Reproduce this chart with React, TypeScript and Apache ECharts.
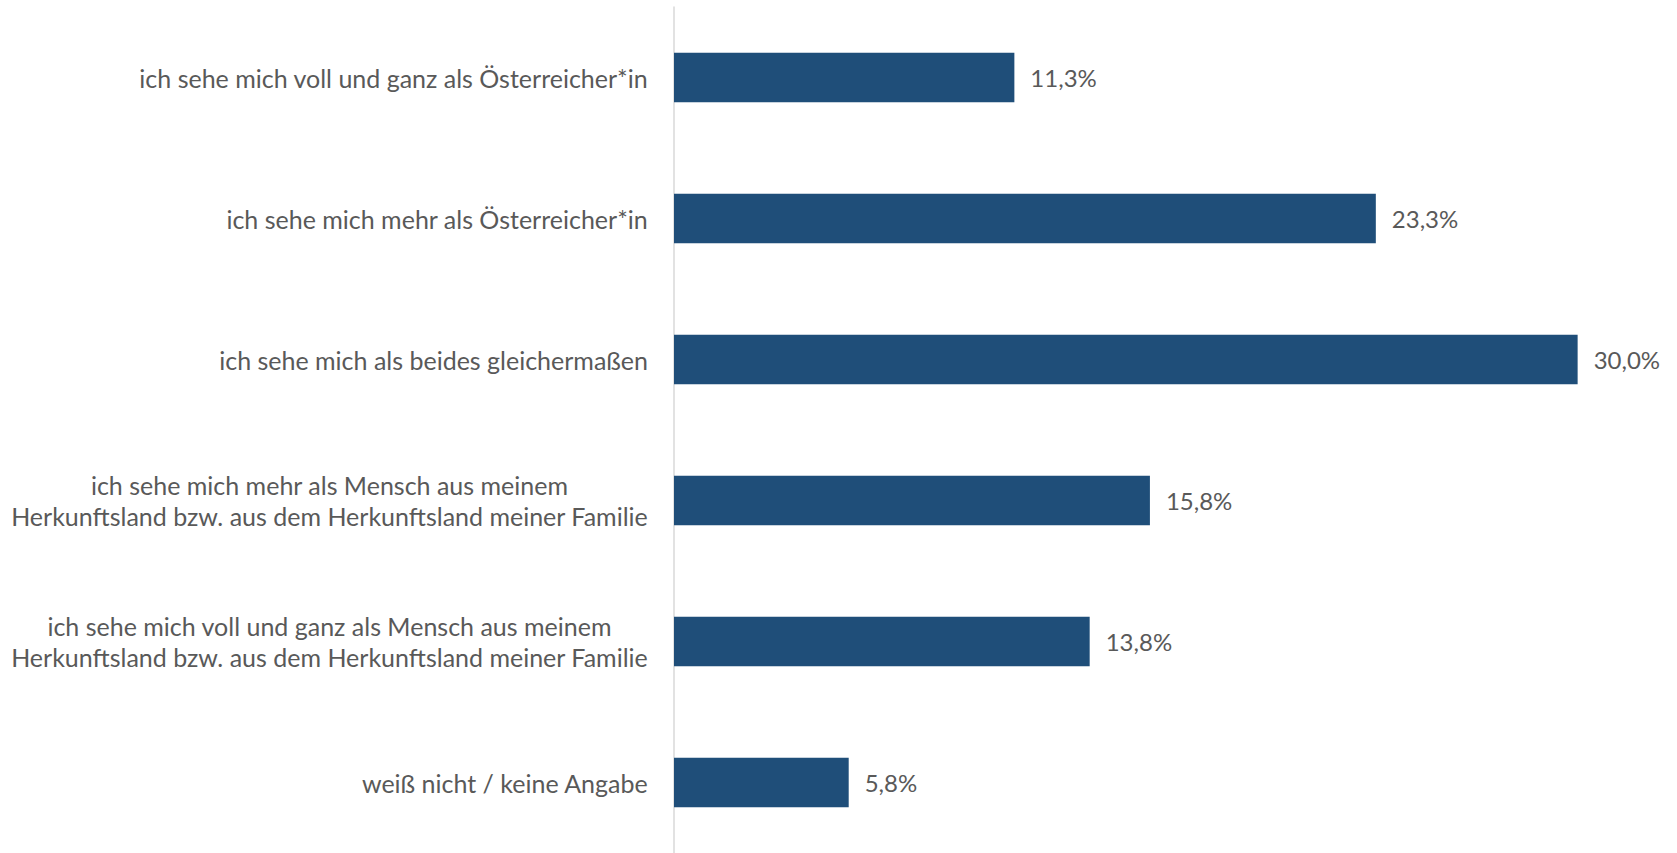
import React, { useEffect, useRef } from "react";
import * as echarts from "echarts";

const categories = [
  "ich sehe mich voll und ganz als Österreicher*in",
  "ich sehe mich mehr als Österreicher*in",
  "ich sehe mich als beides gleichermaßen",
  "ich sehe mich mehr als Mensch aus meinem\nHerkunftsland bzw. aus dem Herkunftsland meiner Familie",
  "ich sehe mich voll und ganz als Mensch aus meinem\nHerkunftsland bzw. aus dem Herkunftsland meiner Familie",
  "weiß nicht / keine Angabe",
];
const values = [11.3, 23.3, 30.0, 15.8, 13.8, 5.8];

const FONT = "Lato, 'Open Sans', sans-serif";
const TEXT_COLOR = "#595959";
const BAR_COLOR = "#1F4E79";
const FONT_SIZE = 25;
const VALUE_FONT_SIZE = 24;

export default function App() {
  const ref = useRef<HTMLDivElement>(null);
  useEffect(() => {
    if (!ref.current) return;
    const chart = echarts.init(ref.current, undefined, { renderer: "svg" });
    chart.setOption({
      animation: false,
      backgroundColor: "#ffffff",
      grid: { left: 674, top: 7, width: 994, height: 852, containLabel: false },
      xAxis: {
        type: "value",
        min: 0,
        max: 33,
        show: false,
      },
      yAxis: {
        type: "category",
        inverse: true,
        data: categories,
        axisLine: { show: true, lineStyle: { color: "#d9d9d9", width: 1.5 } },
        axisTick: { show: false },
        splitLine: { show: false },
        axisLabel: {
          margin: 26,
          fontFamily: FONT,
          fontSize: FONT_SIZE,
          color: TEXT_COLOR,
          lineHeight: 31,
          formatter: (v: string) =>
            v
              .split("\n")
              .map((l) => `{c|${l}}`)
              .join("\n"),
          rich: {
            c: {
              align: "center",
              fontFamily: FONT,
              fontSize: FONT_SIZE,
              color: TEXT_COLOR,
              lineHeight: 31,
            },
          },
        },
      },
      series: [
        {
          type: "bar",
          data: values,
          barCategoryGap: "65%",
          itemStyle: { color: BAR_COLOR },
          label: {
            show: true,
            position: "right",
            distance: 16,
            fontFamily: FONT,
            fontSize: VALUE_FONT_SIZE,
            color: TEXT_COLOR,
            formatter: (p: any) => p.value.toFixed(1).replace(".", ",") + "%",
          },
        },
      ],
    });
    return () => chart.dispose();
  }, []);
  return (
    <div
      ref={ref}
      style={{
        position: "fixed",
        left: 0,
        top: 0,
        width: 1677,
        height: 853,
        background: "#fff",
      }}
    />
  );
}
